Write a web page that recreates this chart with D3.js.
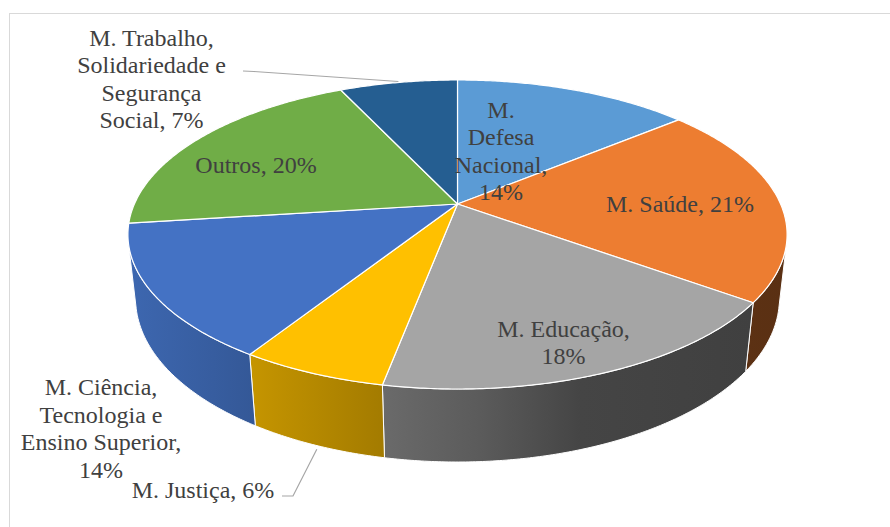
<!DOCTYPE html>
<html>
<head>
<meta charset="utf-8">
<script src="https://cdn.jsdelivr.net/npm/d3@7"></script>
<style>
html,body{margin:0;padding:0;background:#fff;}
svg{display:block;}
</style>
</head>
<body>
<svg id="chart" width="890" height="527"></svg>
<script>
// ---- data ----
const categories = ["M. Defesa Nacional", "M. Saúde", "M. Educação", "M. Justiça",
  "M. Ciência, Tecnologia e Ensino Superior", "Outros", "M. Trabalho, Solidariedade e Segurança Social"];
const values = [14, 21, 18, 6, 14, 20, 7];
const colors = ["#5B9BD5", "#ED7D31", "#A5A5A5", "#FFC000", "#4472C4", "#70AD47", "#255E91"];
// words per line for each data label
const labelWrap = [[1,1,1,1], [3], [2,1], [3], [2,2,2,1], [2], [2,2,1,2]];

// ---- layout ----
const W = 890, H = 527;
const svg = d3.select("#chart");
const cx = 457.5, cy = 204;
const alpha = Math.asin(0.4596), sinA = Math.sin(alpha), cosA = Math.cos(alpha);
const D = 4.499, F = 1453.6, T = 0.2248;

function project(theta, Y) {
  const X = Math.sin(theta), Z = -Math.cos(theta);
  const depth = D - (Y * sinA + Z * cosA);
  return [cx + F * X / depth, cy + F * (Z * sinA - Y * cosA) / depth];
}
function arcPts(a0, a1, Y) {
  const n = Math.max(2, Math.ceil(Math.abs(a1 - a0) / (Math.PI / 360)));
  const pts = [];
  for (let i = 0; i <= n; i++) pts.push(project(a0 + (a1 - a0) * i / n, Y));
  return pts;
}

const pie = d3.pie().sort(null).value(d => d).startAngle(0).endAngle(2 * Math.PI);
const arcs = pie(values);

svg.append("rect").attr("width", W).attr("height", H).attr("fill", "#fff");
svg.append("rect").attr("x", 9.5).attr("y", 13.5).attr("width", 1000).attr("height", 1000)
  .attr("fill", "none").attr("stroke", "#d9d9d9").attr("stroke-width", 1);

const defs = svg.append("defs");
const shadeStops = [[128, 0.90], [255, 0.77], [384, 0.64], [480, 0.55], [580, 0.42], [787, 0.38]];
const x0 = 128, x1 = 787;
arcs.forEach((a, i) => {
  const g = defs.append("linearGradient").attr("id", "side" + i)
    .attr("gradientUnits", "userSpaceOnUse")
    .attr("x1", x0).attr("x2", x1).attr("y1", 0).attr("y2", 0);
  const c = d3.rgb(colors[i]);
  shadeStops.forEach(([x, f]) => {
    g.append("stop").attr("offset", (x - x0) / (x1 - x0))
      .attr("stop-color", d3.rgb(c.r * f, c.g * f, c.b * f).formatHex());
  });
});

const line = d3.line();
// visible outer wall range: -cos(theta) > 1/(D cosA)
const zMin = 1 / (D * cosA);
const vis0 = Math.acos(-zMin), vis1 = 2 * Math.PI - Math.acos(-zMin);

const sides = svg.append("g");
arcs.forEach((a, i) => {
  const b0 = Math.max(a.startAngle, vis0), b1 = Math.min(a.endAngle, vis1);
  if (b1 <= b0) return;
  const top = arcPts(b0, b1, 0);
  const bot = arcPts(b1, b0, -T);
  sides.append("path").attr("d", line(top.concat(bot)) + "Z")
    .attr("fill", `url(#side${i})`)
    .attr("stroke", "#fff").attr("stroke-width", 1).attr("stroke-linejoin", "round");
});

const tops = svg.append("g");
arcs.forEach((a, i) => {
  const pts = [[cx, cy]].concat(arcPts(a.startAngle, a.endAngle, 0));
  tops.append("path").attr("d", line(pts) + "Z")
    .attr("fill", colors[i])
    .attr("stroke", "#fff").attr("stroke-width", 1.2).attr("stroke-linejoin", "round");
});

// ---- leader lines ----
const leaderColor = "#a6a6a6";
(function () {
  const a = arcs[6], m = (a.startAngle + a.endAngle) / 2;
  const p = project(m, 0);
  svg.append("path").attr("d", line([[243, 71], [254, 71.5], [p[0], p[1] - 1]]))
    .attr("fill", "none").attr("stroke", leaderColor).attr("stroke-width", 1.2);
  const b = arcs[3], mb = (b.startAngle + b.endAngle) / 2;
  const q = project(mb, -T);
  svg.append("path").attr("d", line([[282, 496], [293, 496], [q[0] + 1, q[1] + 4]]))
    .attr("fill", "none").attr("stroke", leaderColor).attr("stroke-width", 1.2);
})();

// ---- labels ----
const labelPos = [[501, 117.5], [680, 211.5], [563.5, 336.5], [203, 498], [101, 395], [256, 173], [151.5, 45.5]];
const lineH = 27.6;
const labels = svg.append("g");
arcs.forEach((a, i) => {
  const words = (categories[i] + ", " + values[i] + "%").split(" ");
  const lines = [];
  let k = 0;
  labelWrap[i].forEach(n => { lines.push(words.slice(k, k + n).join(" ")); k += n; });
  const t = labels.append("text").attr("x", labelPos[i][0]).attr("y", labelPos[i][1])
    .style("font-family", "Liberation Serif")
    .style("font-size", "24px").style("fill", "#404040").style("text-anchor", "middle");
  lines.forEach((s, j) => {
    t.append("tspan").attr("x", labelPos[i][0]).attr("dy", j === 0 ? 0 : lineH).text(s);
  });
});
</script>
</body>
</html>
